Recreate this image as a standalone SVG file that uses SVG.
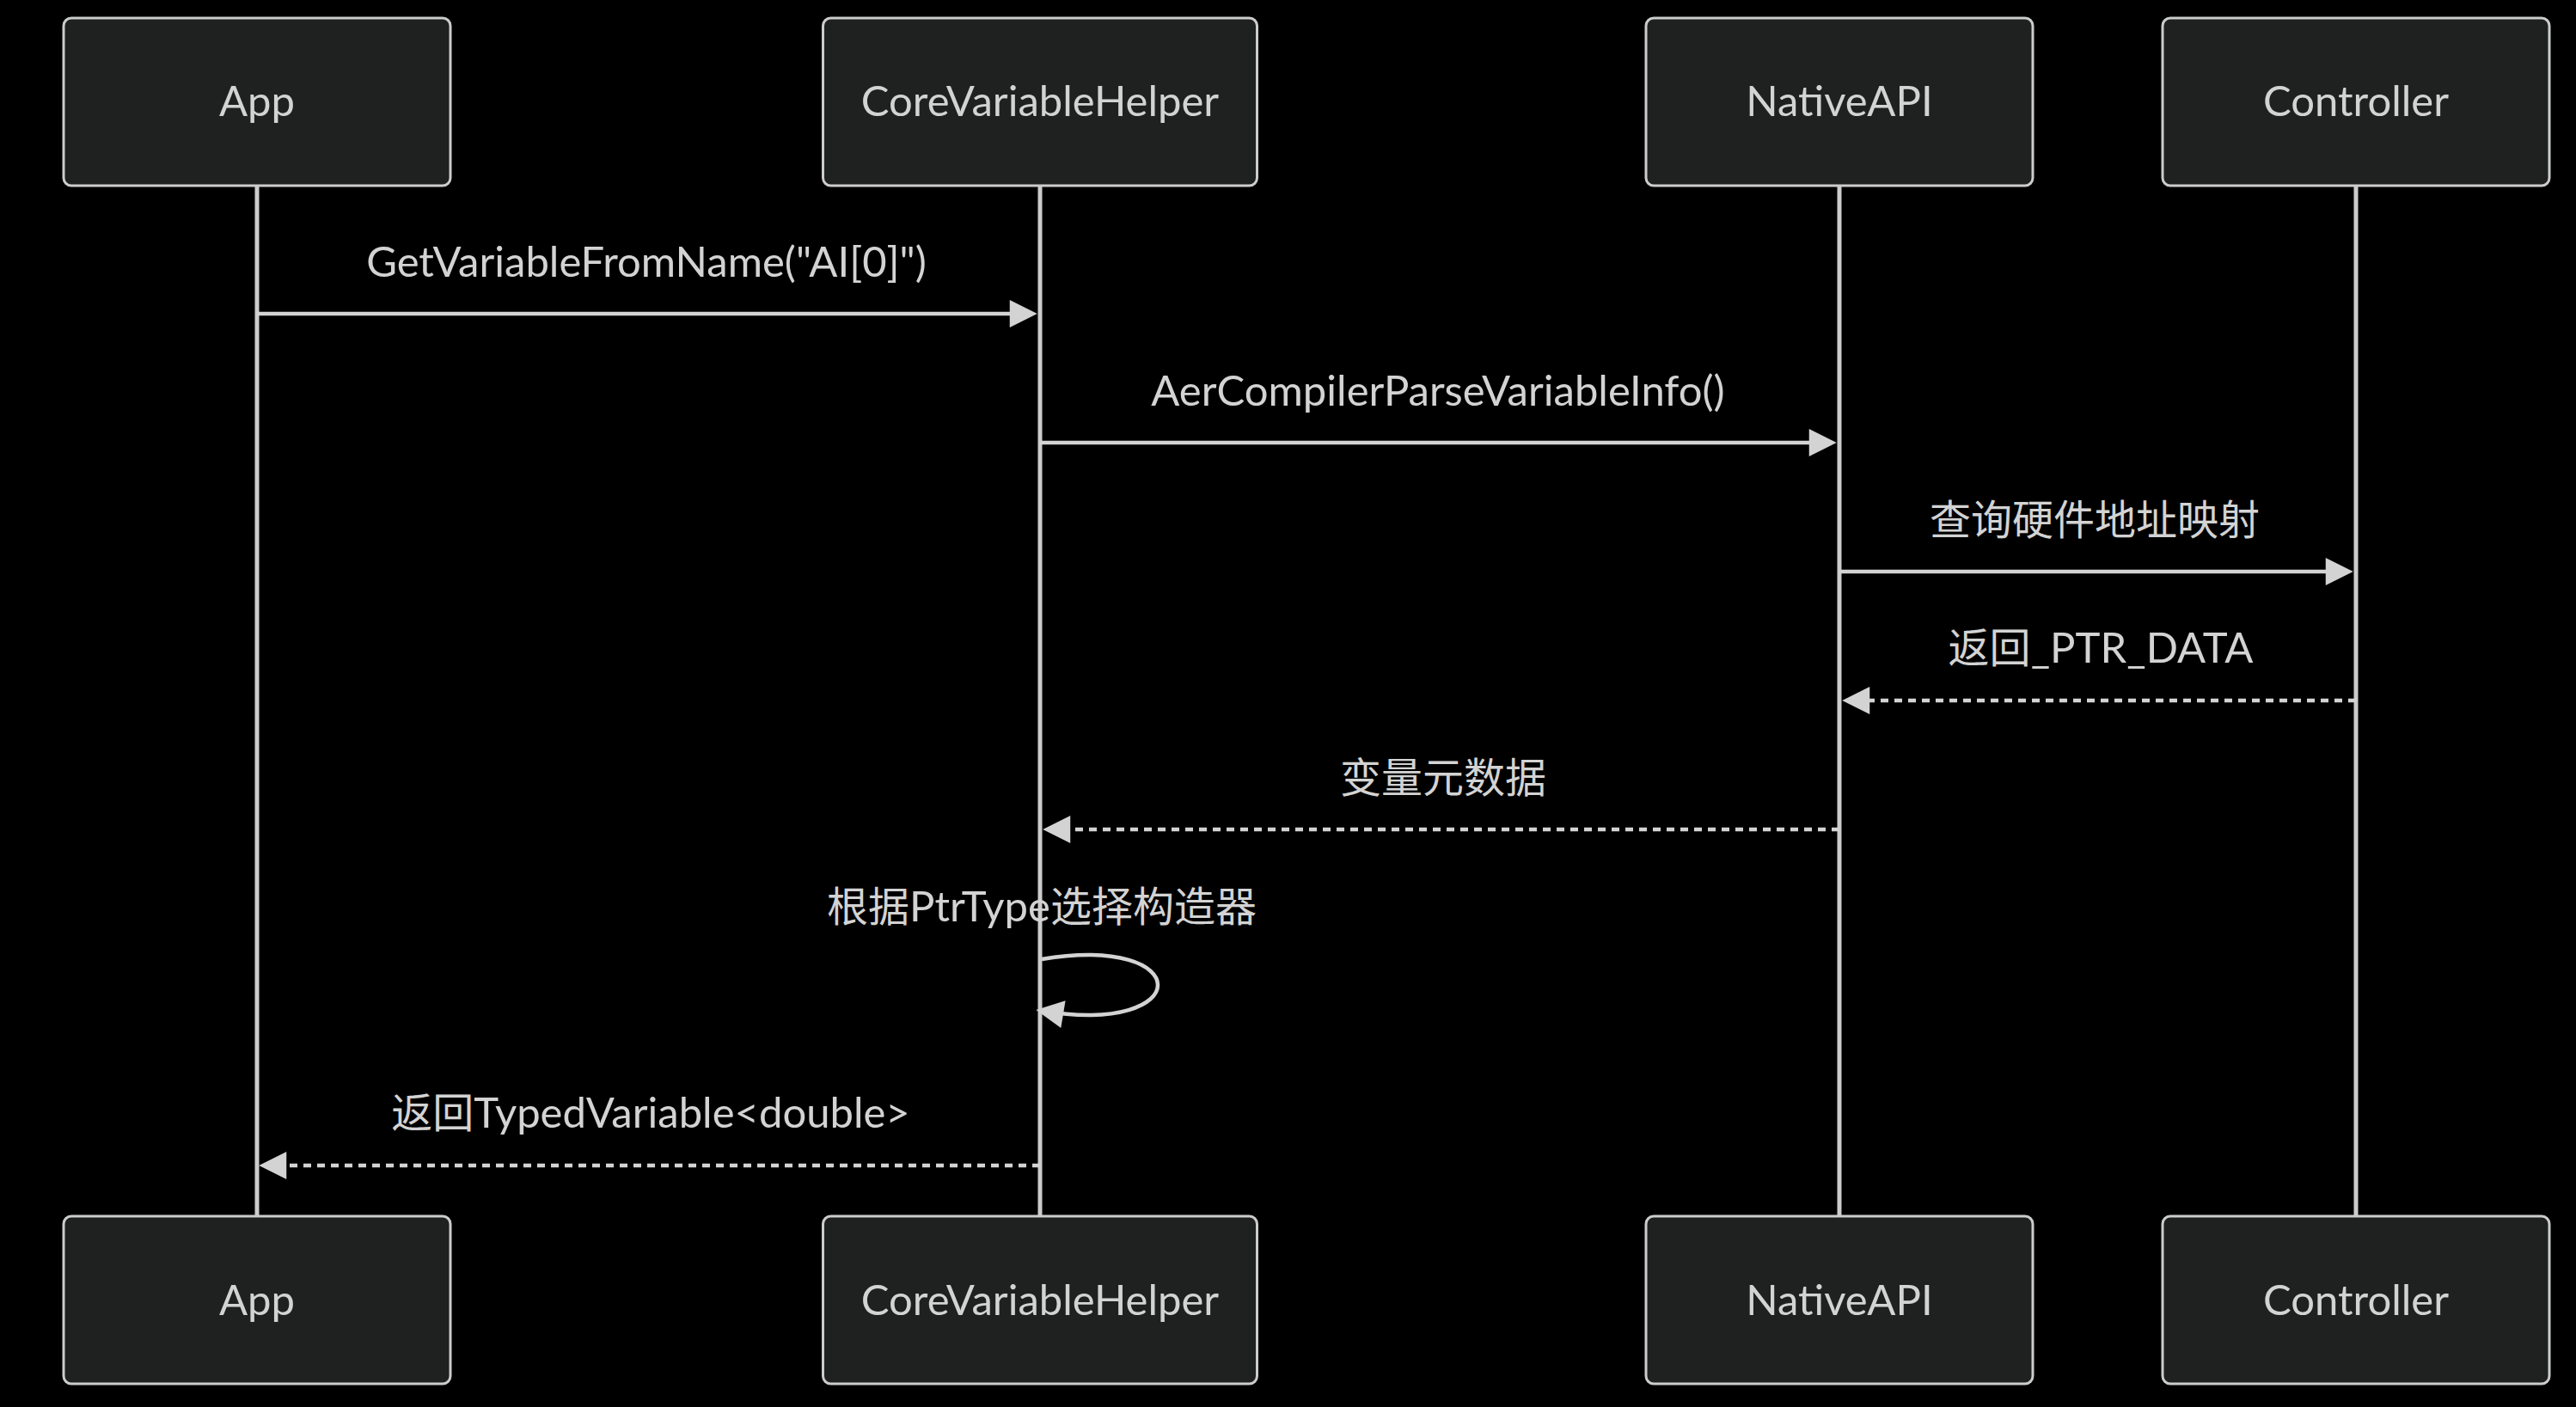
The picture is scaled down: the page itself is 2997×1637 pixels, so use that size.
<svg xmlns="http://www.w3.org/2000/svg" width="2997" height="1637" viewBox="0 0 2997 1637">
<style>
.bg{fill:#000}
.actor{fill:#1f2020;stroke:#cccccc;stroke-width:3}
.atext{font-family:Lato,"Noto Sans CJK SC",sans-serif;font-size:49px;fill:#d3d3d3;text-anchor:middle}
.life{stroke:#cccccc;stroke-width:5;fill:none}
.msg{stroke:#d3d3d3;stroke-width:4.5;fill:none}
.dash{stroke-dasharray:9 7}
.mtext{font-family:Lato,"Noto Sans CJK SC",sans-serif;font-size:48px;fill:#d3d3d3;text-anchor:middle}
.lat{font-size:49px}
</style>
<defs>
<marker id="arrow" viewBox="0 0 10 10" refX="7.9" refY="5" markerUnits="userSpaceOnUse" markerWidth="33" markerHeight="32" orient="auto">
<path d="M0,0 L10,5 L0,10 z" fill="#d3d3d3"/>
</marker>
</defs>
<rect class="bg" x="0" y="0" width="2997" height="1637"/>
<g id="lifelines">
<line class="life" x1="299" y1="216" x2="299" y2="1415"/>
<line class="life" x1="1210" y1="216" x2="1210" y2="1415"/>
<line class="life" x1="2140" y1="216" x2="2140" y2="1415"/>
<line class="life" x1="2741" y1="216" x2="2741" y2="1415"/>
</g>
<g id="actor-App-top"><rect class="actor" x="74" y="21" width="450" height="195" rx="9"/><text class="atext" x="299" y="135">App</text></g>
<g id="actor-CVH-top"><rect class="actor" x="957.5" y="21" width="505" height="195" rx="9"/><text class="atext" x="1210" y="135">CoreVariableHelper</text></g>
<g id="actor-NativeAPI-top"><rect class="actor" x="1915" y="21" width="450" height="195" rx="9"/><text class="atext" x="2140" y="135">NativeAPI</text></g>
<g id="actor-Controller-top"><rect class="actor" x="2516" y="21" width="450" height="195" rx="9"/><text class="atext" x="2741" y="135">Controller</text></g>
<g id="actor-App-bottom"><rect class="actor" x="74" y="1415" width="450" height="195" rx="9"/><text class="atext" x="299" y="1530">App</text></g>
<g id="actor-CVH-bottom"><rect class="actor" x="957.5" y="1415" width="505" height="195" rx="9"/><text class="atext" x="1210" y="1530">CoreVariableHelper</text></g>
<g id="actor-NativeAPI-bottom"><rect class="actor" x="1915" y="1415" width="450" height="195" rx="9"/><text class="atext" x="2140" y="1530">NativeAPI</text></g>
<g id="actor-Controller-bottom"><rect class="actor" x="2516" y="1415" width="450" height="195" rx="9"/><text class="atext" x="2741" y="1530">Controller</text></g>
<g id="connectors">
<line class="msg" x1="299" y1="365" x2="1200" y2="365" marker-end="url(#arrow)"/>
<line class="msg" x1="1210" y1="515" x2="2130" y2="515" marker-end="url(#arrow)"/>
<line class="msg" x1="2140" y1="665" x2="2731" y2="665" marker-end="url(#arrow)"/>
<line class="msg dash" x1="2741" y1="815" x2="2150" y2="815" marker-end="url(#arrow)"/>
<line class="msg dash" x1="2140" y1="965" x2="1220" y2="965" marker-end="url(#arrow)"/>
<path class="msg" d="M1212,1116 C1392,1086 1392,1206 1212,1176" marker-end="url(#arrow)"/>
<line class="msg dash" x1="1210" y1="1356" x2="308" y2="1356" marker-end="url(#arrow)"/>
</g>
<g id="labels">
<text class="mtext lat" x="752" y="322">GetVariableFromName("AI[0]")</text>
<text class="mtext lat" x="1673" y="472">AerCompilerParseVariableInfo()</text>
<text class="mtext" x="2437" y="622">查询硬件地址映射</text>
<text class="mtext" x="2444" y="771">返回<tspan class="lat">_PTR_DATA</tspan></text>
<text class="mtext" x="1679" y="922">变量元数据</text>
<text class="mtext" x="1212" y="1072">根据<tspan class="lat">PtrType</tspan>选择构造器</text>
<text class="mtext" x="757" y="1312">返回<tspan class="lat">TypedVariable&lt;double&gt;</tspan></text>
</g>
</svg>
